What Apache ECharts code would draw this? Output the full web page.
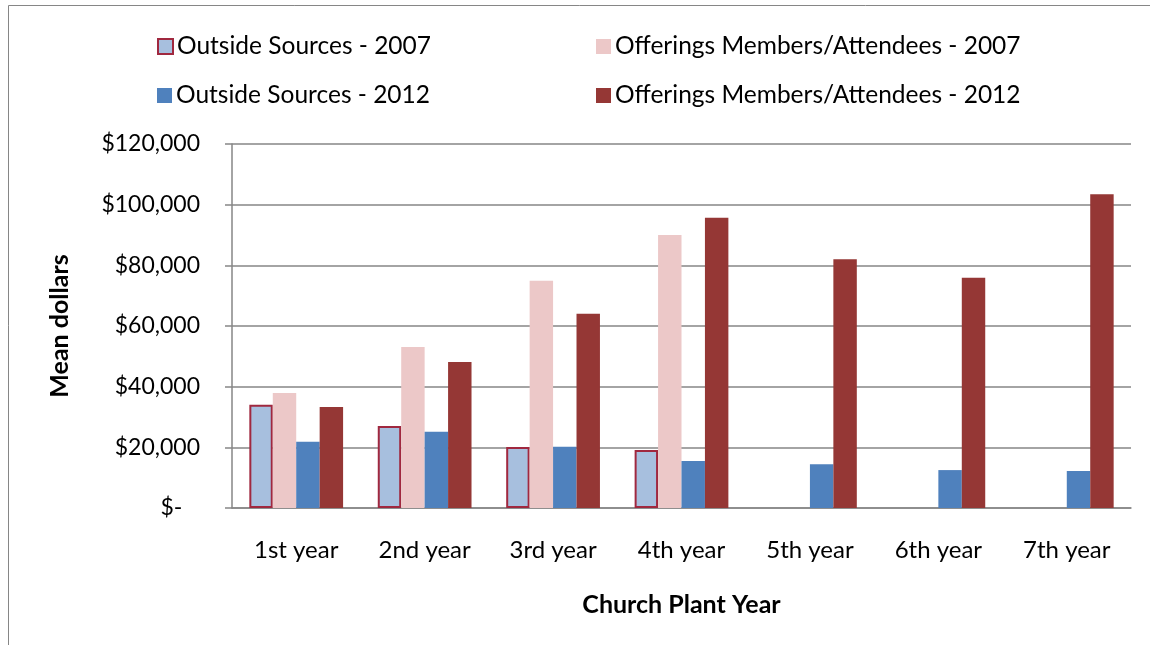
<!DOCTYPE html>
<html><head><meta charset="utf-8">
<script src="https://cdn.jsdelivr.net/npm/echarts@6/dist/echarts.min.js"></script>
<style>html,body{margin:0;padding:0;background:#fff}#c{width:1150px;height:645px}</style>
</head><body><div id="c"></div>
<script>
const categories = ['1st year','2nd year','3rd year','4th year','5th year','6th year','7th year'];
const seriesNames = ['Outside Sources - 2007','Offerings Members/Attendees - 2007','Outside Sources - 2012','Offerings Members/Attendees - 2012'];
const outside2007 = [34000, 27000, 20100, 19100, null, null, null];
const offerings2007 = [37900, 53100, 74900, 90000, null, null, null];
const outside2012 = [21800, 25100, 20200, 15500, 14400, 12500, 12200];
const offerings2012 = [33300, 48100, 64000, 95700, 82000, 75900, 103400];
const yTicks = [0, 20000, 40000, 60000, 80000, 100000, 120000];

const FONT = 'Lato';
const colors = ['#A7BFDE','#ECC8C8','#4F81BD','#953735'];
const chart = echarts.init(document.getElementById('c'));
function fmt(v){ if(v===0) return '$-   '; return '$' + v.toLocaleString('en-US'); }
const legendPos = [[157,34],[596,34],[157,83],[596,83]];
chart.setOption({
  animation:false,
  textStyle:{fontFamily:FONT},
  graphic:[{type:'rect',shape:{x:8.5,y:5.5,width:1160,height:660},style:{fill:'none',stroke:'#868686',lineWidth:1}}],
  legend: seriesNames.map((n,i)=>({data:[n],left:legendPos[i][0],top:legendPos[i][1],padding:0,itemWidth:15,itemHeight:15,itemGap:0,
     textStyle:{fontFamily:FONT,fontSize:24.5,color:'#000',padding:[0,0,0,-1]},icon:'rect'})),
  grid:{left:232,right:19,top:144,bottom:137},
  xAxis:{type:'category',data:categories,
    axisLine:{lineStyle:{color:'#868686',width:1.5}},
    axisTick:{length:7,lineStyle:{color:'#868686',width:1.5}},
    axisLabel:{color:'#000',fontSize:24,fontFamily:FONT,margin:30},
    name:'Church Plant Year',nameLocation:'middle',nameGap:84,
    nameTextStyle:{fontSize:25,fontWeight:'bold',color:'#000',fontFamily:FONT}},
  yAxis:{type:'value',min:0,max:120000,interval:20000,
    axisLine:{show:true,lineStyle:{color:'#868686',width:1.5}},
    axisTick:{show:true,length:7,lineStyle:{color:'#868686',width:1.5}},
    splitLine:{lineStyle:{color:'#868686',width:1.5}},
    axisLabel:{color:'#000',fontSize:23,fontFamily:FONT,margin:32,formatter:fmt},
    name:'Mean dollars',nameLocation:'middle',nameGap:160,nameRotate:90,
    nameTextStyle:{fontSize:25,fontWeight:'bold',color:'#000',fontFamily:FONT}},
  series:[
    {name:seriesNames[0],type:'bar',data:outside2007,barGap:'0%',barCategoryGap:'27%',
      itemStyle:{color:colors[0],borderColor:'#A0283F',borderWidth:2}},
    {name:seriesNames[1],type:'bar',data:offerings2007,itemStyle:{color:colors[1]}},
    {name:seriesNames[2],type:'bar',data:outside2012,itemStyle:{color:colors[2]}},
    {name:seriesNames[3],type:'bar',data:offerings2012,itemStyle:{color:colors[3]}}
  ]
});
</script></body></html>
